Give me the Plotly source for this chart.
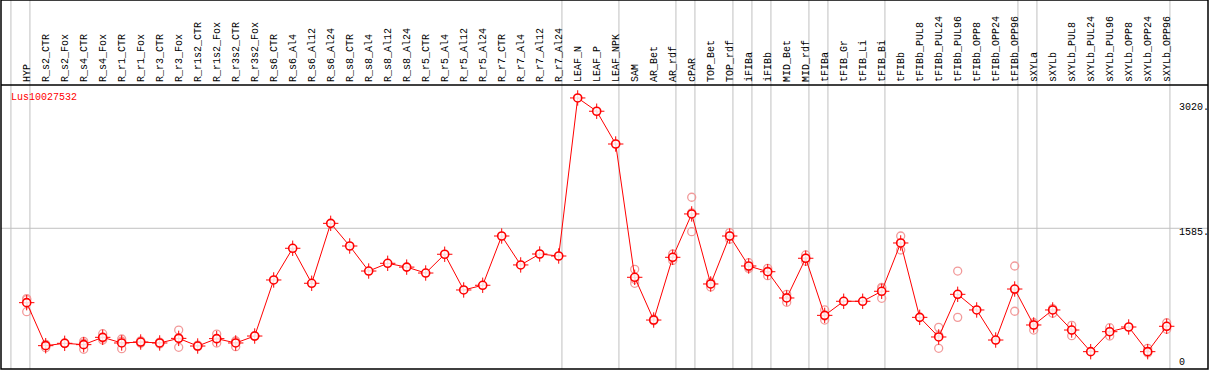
import plotly.graph_objects as go

categories = ["HYP", "R_s2_CTR", "R_s2_Fox", "R_s4_CTR", "R_s4_Fox", "R_r1_CTR", "R_r1_Fox",
              "R_r3_CTR", "R_r3_Fox", "R_r1s2_CTR", "R_r1s2_Fox", "R_r3s2_CTR", "R_r3s2_Fox",
              "R_s6_CTR", "R_s6_Al4", "R_s6_Al12", "R_s6_Al24", "R_s8_CTR", "R_s8_Al4", "R_s8_Al12",
              "R_s8_Al24", "R_r5_CTR", "R_r5_Al4", "R_r5_Al12", "R_r5_Al24", "R_r7_CTR", "R_r7_Al4",
              "R_r7_Al12", "R_r7_Al24", "LEAF_N", "LEAF_P", "LEAF_NPK", "SAM", "AR_Bet", "AR_rdf",
              "cPAR", "TOP_Bet", "TOP_rdf", "iFIBa", "iFIBb", "MID_Bet", "MID_rdf", "tFIBa",
              "tFIB_Gr", "tFIB_Li", "tFIB_Bi", "tFIBb", "tFIBb_PUL8", "tFIBb_PUL24", "tFIBb_PUL96",
              "tFIBb_OPP8", "tFIBb_OPP24", "tFIBb_OPP96", "sXYLa", "sXYLb", "sXYLb_PUL8",
              "sXYLb_PUL24", "sXYLb_PUL96", "sXYLb_OPP8", "sXYLb_OPP24", "sXYLb_OPP96"]

mean_values = [729, 234, 261, 246, 330, 265, 276, 265, 318, 230, 315, 265, 345,
               990, 1355, 952, 1642, 1381, 1093, 1182, 1138, 1070, 1286, 875, 929,
               1496, 1163, 1289, 1266, 3085, 2932, 2555, 1021, 529, 1251, 1750, 944,
               1496, 1151, 1085, 783, 1240, 583, 745, 745, 860, 1416, 560, 334, 825,
               645, 299, 886, 472, 645, 414, 165, 395, 449, 165, 457]

replicates = [[775, 765, 625], [250, 240, 211], [265, 260, 258], [284, 192, 262], [372, 320, 299],
              [311, 285, 199], [290, 275, 262], [275, 265, 255], [414, 325, 215], [240, 230, 222],
              [368, 312, 265], [288, 285, 222], [350, 345, 340],
              [], [], [], [], [], [], [], [], [], [], [], [], [], [], [], [], [], [], [],
              [1113, 998, 952], [540, 529, 520], [1289, 1251, 1215], [1942, 1762, 1546],
              [965, 944, 910], [1535, 1496, 1460], [1189, 1140, 1124], [1124, 1092, 1039],
              [825, 790, 733], [1278, 1240, 1205], [645, 575, 529], [], [], [906, 895, 779],
              [1496, 1416, 1335], [], [445, 353, 204], [1093, 822, 560], [], [], [1151, 877, 630],
              [498, 472, 414], [660, 645, 607], [468, 414, 349], [], [441, 395, 345], [],
              [204, 165, 150], [498, 457, 422]]

gene_label = "Lus10027532"
ytick_values = [0, 1585, 3020]
ytick_labels = ["0", "1585.", "3020."]
group_after = [-1, 0, 28, 31, 34, 35, 37, 38, 39, 41, 42, 45, 52, 53, 60]

xs = list(range(len(categories)))
rep_x, rep_y = [], []
for i, reps in enumerate(replicates):
    for v in reps:
        rep_x.append(i)
        rep_y.append(v)

FONT = "Liberation Mono"
RED = "#ff0000"
PALE = "#f29a9a"

fig = go.Figure()
fig.add_trace(go.Scatter(x=rep_x, y=rep_y, mode="markers",
                         marker=dict(symbol="circle-open", size=8, color=PALE,
                                     line=dict(width=1.3, color=PALE)),
                         hoverinfo="skip", showlegend=False))
fig.add_trace(go.Scatter(x=xs, y=mean_values, mode="lines",
                         line=dict(color=RED, width=1), showlegend=False))
fig.add_trace(go.Scatter(x=xs, y=mean_values, mode="markers",
                         marker=dict(symbol="cross-thin-open", size=11,
                                     line=dict(width=1, color=RED), color=RED),
                         showlegend=False, hoverinfo="skip"))
fig.add_trace(go.Scatter(x=xs, y=mean_values, mode="markers",
                         marker=dict(symbol="circle", size=8, color="rgba(255,255,255,0.85)",
                                     line=dict(width=1.6, color=RED)),
                         showlegend=False))

top_paper = 1 + 85 / 284
shapes = []
for g in group_after:
    shapes.append(dict(type="line", xref="x", yref="paper", x0=g + 0.17, x1=g + 0.17,
                       y0=0, y1=top_paper, line=dict(color="#c0c0c0", width=1), layer="below"))
shapes.append(dict(type="line", xref="paper", yref="y", x0=0, x1=1, y0=ytick_values[1],
                   y1=ytick_values[1], line=dict(color="#c0c0c0", width=1), layer="below"))
shapes.append(dict(type="line", xref="paper", yref="paper", x0=0, x1=1, y0=1, y1=1,
                   line=dict(color="black", width=1.5)))
shapes.append(dict(type="rect", xref="paper", yref="paper", x0=0, x1=1, y0=0, y1=top_paper,
                   line=dict(color="black", width=1.5)))

annotations = [dict(text=gene_label, xref="paper", yref="paper", x=(9 - 1) / 1207, y=1,
                    xanchor="left", yanchor="top", yshift=-5, showarrow=False,
                    font=dict(family=FONT, size=10, color=RED))]
for v, t in zip(ytick_values, ytick_labels):
    annotations.append(dict(text=t, xref="paper", yref="y", x=(1177 - 1) / 1207, y=v,
                            xanchor="left", yanchor="middle",
                            yshift=(4 if v == 0 else -4), showarrow=False,
                            font=dict(family=FONT, size=10, color="black")))

fig.update_layout(
    width=1209, height=370,
    margin=dict(l=1, r=1, t=85, b=1),
    paper_bgcolor="white", plot_bgcolor="white",
    shapes=shapes, annotations=annotations, showlegend=False,
    xaxis=dict(range=[(1 - 26.7) / 19, (1208 - 26.7) / 19], side="top",
               tickmode="array", tickvals=xs, ticktext=categories, tickangle=-90,
               tickfont=dict(family=FONT, size=10, color="black"), ticklabelstandoff=2,
               showgrid=False, zeroline=False, showline=False, ticks=""),
    yaxis=dict(range=[-34.5, 3234], showticklabels=False, showgrid=False,
               zeroline=False, showline=False, ticks=""),
)

fig.write_html("out.html", config={"displayModeBar": False},
               post_script="document.body.style.margin='0';")
